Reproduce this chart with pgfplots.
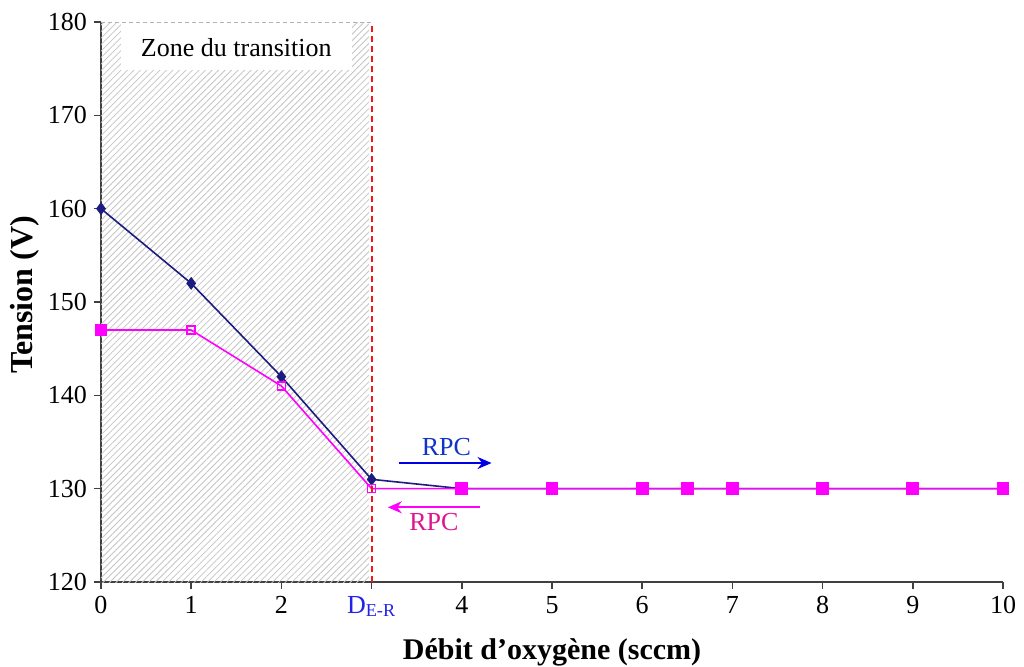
\documentclass[border=0pt]{standalone}
\usepackage{fontspec}
\setmainfont{Liberation Serif}
\usepackage{pgfplots}
\pgfplotsset{compat=1.18}
\usetikzlibrary{patterns.meta,arrows.meta,plotmarks}
\definecolor{navyl}{HTML}{1C1C80}
\definecolor{mag}{HTML}{FF00FF}
\definecolor{rpcblue}{HTML}{1034C8}
\definecolor{rpcpink}{HTML}{E0158C}
\definecolor{arrblue}{HTML}{0000E6}
\definecolor{axisgray}{HTML}{404040}
\definecolor{derblue}{HTML}{2222E8}
\definecolor{hatch}{HTML}{C4C4C4}
\definecolor{dashred}{HTML}{F01818}
\begin{document}
\begin{tikzpicture}
\useasboundingbox (-50.5pt,-42pt) rectangle (461.5pt,291pt);
\begin{axis}[
  width=451pt, height=280pt, scale only axis,
  xmin=0, xmax=10, ymin=120, ymax=180,
  axis lines=left,
  axis line style={axisgray, line width=1pt, -},
  xtick={0,1,2,3,4,5,6,7,8,9,10},
  xticklabels={0,1,2,{\textcolor{derblue}{D\textsubscript{E-R}}},4,5,6,7,8,9,10},
  ytick={120,130,140,150,160,170,180},
  tick align=outside,
  major tick length=3.5pt,
  tick style={axisgray, line width=0.8pt},
  /pgf/number format/assume math mode=true,
  ticklabel style={font=\fontsize{13}{15}\selectfont},
  xlabel={\textbf{Débit d’oxygène (sccm)}},
  ylabel={\textbf{Tension (V)}},
  xlabel style={font=\fontsize{15}{17}\selectfont, at={(axis description cs:0.5,-0.125)}, anchor=center},
  ylabel style={font=\fontsize{16}{18}\selectfont, at={(axis description cs:-0.0843,0.5125)}, anchor=center, rotate=0},
  clip=false,
]
% transition zone
\fill[pattern={Lines[angle=45, distance=2.3pt, line width=0.4pt]}, pattern color=hatch] (axis cs:0,120) rectangle (axis cs:2.97,180);
\fill[white] (axis cs:0.22,174.9) rectangle (axis cs:2.78,180);
\node[font=\fontsize{13}{15}\selectfont] at (axis cs:1.5,177.3) {Zone du transition};

% blue series
\addplot[navyl, line width=0.8pt, mark=diamond*, mark size=2.6pt,
  mark options={fill=navyl, draw=navyl}]
  coordinates {(0,160) (1,152) (2,142) (3,131) (4,130) (5,130) (6,130) (6.5,130) (7,130) (8,130) (9,130) (10,130)};
% pink series
\addplot[mag, line width=0.8pt, mark=square*, mark size=2.8pt,
  mark options={fill=mag, draw=mag}, mark indices={1,5,6,7,8,9,10,11,12}]
  coordinates {(0,147) (1,147) (2,141) (3,130) (4,130) (5,130) (6,130) (6.5,130) (7,130) (8,130) (9,130) (10,130)};
\addplot[only marks, mag, mark=square, mark size=2pt, mark options={line width=0.8pt}]
  coordinates {(1,147) (2,141) (3,130)};

% arrows
\draw[arrblue, line width=1pt, -{Stealth[length=7pt,width=6pt]}] (axis cs:3.30,132.75) -- (axis cs:4.33,132.75);
\node[rpcblue, font=\fontsize{13}{15}\selectfont] at (axis cs:3.83,134.5) {RPC};
\draw[mag, line width=1pt, -{Stealth[length=7pt,width=6pt]}] (axis cs:4.2,128.0) -- (axis cs:3.18,128.0);
\node[rpcpink, font=\fontsize{13}{15}\selectfont] at (axis cs:3.69,126.4) {RPC};

\draw[color=gray!60, line width=0.5pt, dash pattern=on 2pt off 1.5pt] (axis cs:0,180) -- (axis cs:3,180);
\draw[color=dashred, line width=1pt, dash pattern=on 3pt off 2pt] (axis cs:3,120) -- (axis cs:3,180);
\end{axis}
\end{tikzpicture}
\end{document}
